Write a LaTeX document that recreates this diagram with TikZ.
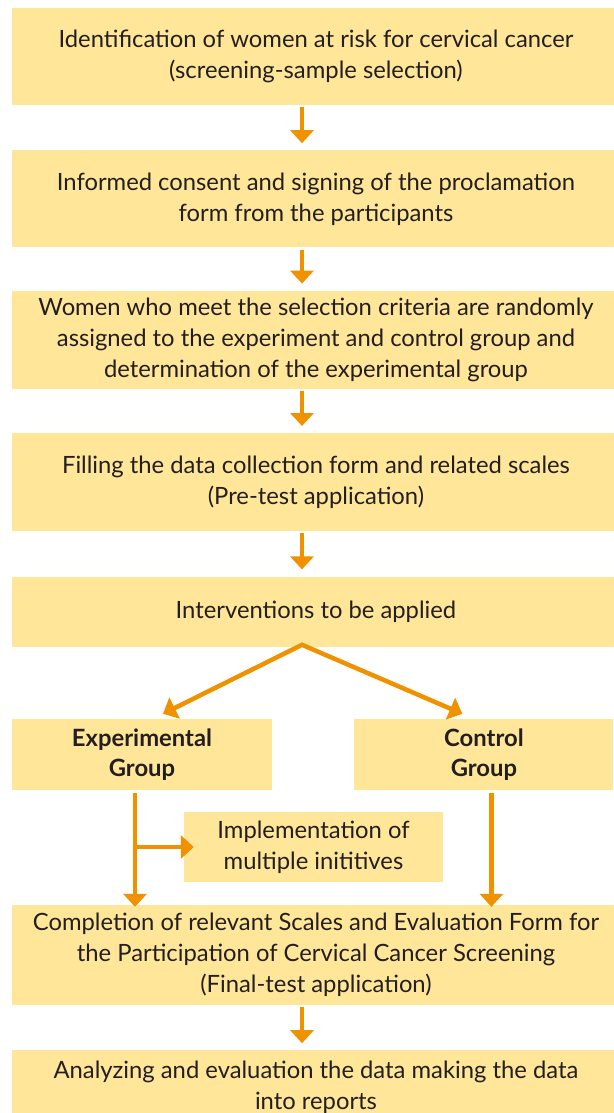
\documentclass[tikz,border=0pt]{standalone}
\usepackage{fontspec}
\setmainfont{Lato}
\usetikzlibrary{positioning}
\usetikzlibrary{arrows.meta}
\definecolor{boxfill}{RGB}{255,230,153}
\definecolor{flowline}{RGB}{240,146,0}
\definecolor{boxtext}{RGB}{35,31,32}

\begin{document}
\begin{tikzpicture}[x=1pt, y=1pt,
		box/.style = {fill=boxfill, text=boxtext, align=center, inner sep=0pt,
			minimum width=608pt, font=\fontsize{23.8}{31}\selectfont},
		grp/.style = {box, minimum width=259pt, minimum height=71pt,
			font=\fontsize{23.8}{30}\selectfont\bfseries},
		flow/.style = {draw=flowline, line width=4.5pt,
			-{Triangle[width=23pt, length=13pt]}}]
	\useasboundingbox (0,0) rectangle (613,-1113);
	\node[box, minimum height=97pt] (b1) at (316,-56.5)
		{Identification of women at risk for cervical cancer\\(screening-sample selection)};
	\node[box, minimum height=97pt, below=45pt of b1] (b2)
		{Informed consent and signing of the proclamation\\form from the participants};
	\node[box, minimum height=98pt, below=43pt of b2] (b3)
		{Women who meet the selection criteria are randomly\\assigned to the experiment and control group and\\determination of the experimental group};
	\node[box, minimum height=98pt, below=44pt of b3] (b4)
		{Filling the data collection form and related scales\\(Pre-test application)};
	\node[box, minimum height=70pt, below=45pt of b4] (b5)
		{Interventions to be applied};
	\node[grp, minimum width=260pt, below right=72pt and 0pt of b5.south west] (expgrp)
		{Experimental\\Group};
	\node[grp, right=82pt of expgrp] (ctrlgrp) {Control\\Group};
	\node[box, minimum width=259pt, minimum height=70pt] (impl) at (313.5,-847)
		{Implementation of\\multiple inititives};
	\node[box, minimum height=100pt, below=258pt of b5] (b6)
		{Completion of relevant Scales and Evaluation Form for\\the Participation of Cervical Cancer Screening\\(Final-test application)};
	\node[box, minimum height=73pt, below=45pt of b6] (b7)
		{Analyzing and evaluation the data making the data\\into reports};

	% main chain
	\draw[flow, shorten <=2pt, shorten >=7pt] ([xshift=-14pt]b1.south) -- ([xshift=-14pt]b2.north);
	\draw[flow, shorten <=2pt, shorten >=7pt] ([xshift=-14pt]b2.south) -- ([xshift=-14pt]b3.north);
	\draw[flow, shorten <=2pt, shorten >=7pt] ([xshift=-14pt]b3.south) -- ([xshift=-14pt]b4.north);
	\draw[flow, shorten <=2pt, shorten >=7pt] ([xshift=-14pt]b4.south) -- ([xshift=-14pt]b5.north);
	\draw[flow, shorten <=2pt, shorten >=7pt] ([xshift=-14pt]b6.south) -- ([xshift=-14pt]b7.north);

	% split into the two groups
	\draw[flow, {Triangle[width=23pt, length=13pt]}-{Triangle[width=23pt, length=13pt]}, line join=miter]
		([xshift=21pt, yshift=5pt]expgrp.north) -- ([xshift=-14pt, yshift=2pt]b5.south)
		-- ([xshift=-21.5pt, yshift=5pt]ctrlgrp.north);

	\coordinate (expfoot) at ([xshift=-7pt]expgrp.south);
	\coordinate (ctrlfoot) at ([xshift=7.5pt]ctrlgrp.south);
	\draw[flow, shorten <=3pt, shorten >=-2pt] (expfoot) -- (expfoot |- b6.north);
	\draw[flow] (expfoot |- impl.west) -- ([xshift=10pt]impl.west);
	\draw[flow, shorten <=3pt, shorten >=-2pt] (ctrlfoot) -- (ctrlfoot |- b6.north);
\end{tikzpicture}
\end{document}
